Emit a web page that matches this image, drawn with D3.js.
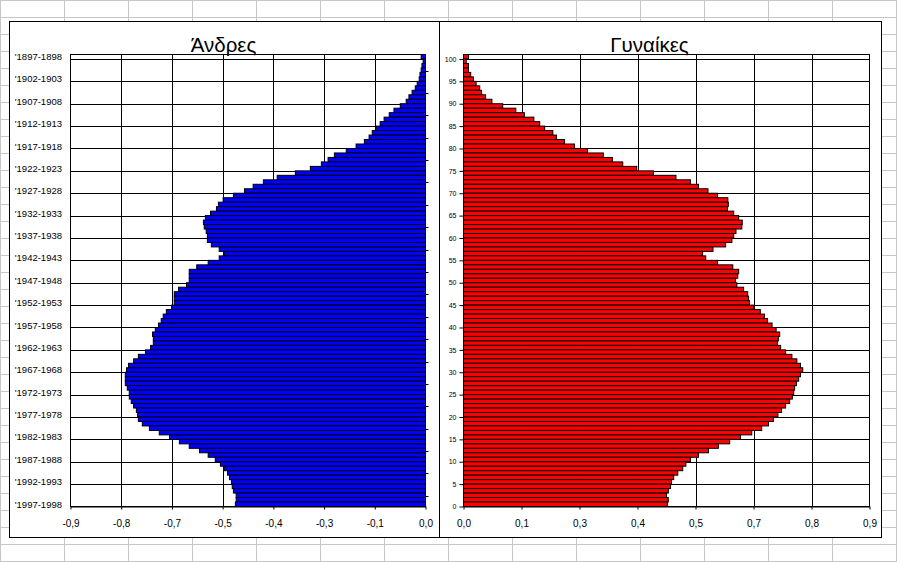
<!DOCTYPE html>
<html><head><meta charset="utf-8">
<script src="https://cdn.jsdelivr.net/npm/d3@7"></script>
<style>
body{margin:0;background:#fff;}
svg{display:block;font-family:"Liberation Sans",Arial,sans-serif;}
</style>
</head><body>
<svg id="c" width="897" height="562"></svg>
<script>
// ---------- data ----------
const birthYears = d3.range(1897, 1998);          // categories, top to bottom
const birthLabels = birthYears.map(y => "'" + y + "-" + (y + 1));
const ages = d3.range(100, -1, -1);                // 100 .. 0, top to bottom
const maleValues = [
  0.011,0.006,0.009,0.011,0.014,0.016,0.021,0.026,0.034,0.042,
  0.049,0.064,0.080,0.092,0.105,0.115,0.125,0.135,0.143,0.155,
  0.176,0.201,0.231,0.247,0.264,0.292,0.330,0.376,0.411,0.437,
  0.459,0.487,0.513,0.525,0.530,0.545,0.558,0.563,0.561,0.556,
  0.553,0.553,0.543,0.523,0.510,0.523,0.551,0.580,0.599,0.599,
  0.599,0.606,0.626,0.637,0.637,0.637,0.644,0.657,0.665,0.670,
  0.677,0.685,0.692,0.690,0.690,0.697,0.710,0.728,0.740,0.753,
  0.758,0.761,0.761,0.761,0.756,0.751,0.751,0.746,0.740,0.733,
  0.730,0.728,0.718,0.700,0.675,0.649,0.624,0.599,0.573,0.551,
  0.533,0.520,0.510,0.502,0.497,0.492,0.490,0.487,0.480,0.480,0.482
];
const femaleValues = [
  0.011,0.006,0.011,0.011,0.016,0.022,0.028,0.036,0.040,0.049,
  0.063,0.087,0.116,0.135,0.156,0.169,0.180,0.198,0.206,0.224,
  0.246,0.275,0.310,0.330,0.353,0.384,0.421,0.471,0.503,0.521,
  0.542,0.563,0.586,0.587,0.585,0.599,0.610,0.618,0.617,0.604,
  0.599,0.595,0.581,0.553,0.530,0.537,0.563,0.597,0.610,0.608,
  0.603,0.606,0.621,0.630,0.632,0.634,0.643,0.658,0.667,0.674,
  0.684,0.693,0.701,0.698,0.696,0.703,0.714,0.728,0.739,0.747,
  0.752,0.747,0.743,0.738,0.734,0.732,0.729,0.723,0.714,0.705,
  0.697,0.687,0.676,0.661,0.639,0.614,0.590,0.565,0.543,0.521,
  0.503,0.493,0.486,0.475,0.466,0.461,0.459,0.454,0.450,0.454,0.452
];
const maleTickLabels   = ["-0,9","-0,8","-0,7","-0,5","-0,4","-0,3","-0,1","0,0"];
const femaleTickLabels = ["0,0","0,1","0,3","0,4","0,5","0,7","0,8","0,9"];
const ageTickValues = d3.range(100, -1, -5);
const maleTitle = "Άνδρες", femaleTitle = "Γυναίκες";
const axisMax = 0.9;

// ---------- layout ----------
const svg = d3.select("#c");
const W = 897, H = 562;
const plotTop = 54.5, plotBottom = 506.5;

// spreadsheet background grid
const bg = svg.append("g");
bg.selectAll("line.v").data(d3.range(0, W + 1, 64)).join("line")
  .attr("x1", d => d + 0.5).attr("x2", d => d + 0.5).attr("y1", 0).attr("y2", H)
  .attr("stroke", "#c6c6c6").attr("stroke-width", 1);
bg.selectAll("line.h").data(d3.range(0, H + 1, 17)).join("line")
  .attr("y1", d => d + 0.5).attr("y2", d => d + 0.5).attr("x1", 0).attr("x2", W)
  .attr("stroke", "#c6c6c6").attr("stroke-width", 1);

// chart frames
svg.append("rect").attr("x", 9.5).attr("y", 21.5).attr("width", 430).attr("height", 516)
  .attr("fill", "#fff").attr("stroke", "#000");
svg.append("rect").attr("x", 439.5).attr("y", 21.5).attr("width", 442).attr("height", 516)
  .attr("fill", "#fff").attr("stroke", "#000");

const tickVals = d3.range(8).map(i => i * axisMax / 7);
const boundaryAge = d3.scaleLinear().domain([101, 0]).range([plotTop, plotBottom]);
const gridAges = ageTickValues.filter(a => a > 0);
const innerTicks = tickVals.filter(v => v > 0 && v < axisMax - 1e-9);

// ---------- left panel (men) ----------
const Lx0 = 70.5, Lx1 = 425.5;
const xL = d3.scaleLinear().domain([0, axisMax]).range([Lx1, Lx0]);
const yL = d3.scaleBand().domain(birthLabels).range([plotTop, plotBottom]).padding(0);
const gL = svg.append("g");

gL.selectAll("line.gv").data(innerTicks).join("line")
  .attr("x1", d => Math.round(xL(d)) + 0.5).attr("x2", d => Math.round(xL(d)) + 0.5)
  .attr("y1", plotTop).attr("y2", plotBottom).attr("stroke", "#000");
gL.selectAll("line.gh").data(gridAges).join("line")
  .attr("y1", d => Math.round(boundaryAge(d)) + 0.5).attr("y2", d => Math.round(boundaryAge(d)) + 0.5)
  .attr("x1", Lx0).attr("x2", Lx1).attr("stroke", "#000");
gL.selectAll("rect.bar").data(maleValues).join("rect")
  .attr("x", d => xL(d)).attr("width", d => xL(0) - xL(d))
  .attr("y", (d, i) => yL(birthLabels[i])).attr("height", yL.bandwidth())
  .attr("fill", "#0000ff").attr("stroke", "#000").attr("stroke-width", 1);
gL.append("rect").attr("x", Lx0).attr("y", plotTop).attr("width", Lx1 - Lx0).attr("height", plotBottom - plotTop)
  .attr("fill", "none").attr("stroke", "#000");
gL.selectAll("text.cat").data(birthLabels.filter((d, i) => i % 5 === 0)).join("text")
  .attr("x", 62).attr("y", d => yL(d) + yL.bandwidth() / 2).attr("dy", "0.35em")
  .attr("text-anchor", "end").attr("font-size", "9.5px").attr("fill", "#000").text(d => d);
gL.selectAll("line.rt").data(d3.range(20)).join("line")
  .attr("x1", Lx1).attr("x2", Lx1 + 3)
  .attr("y1", k => Math.round(plotTop + (3.6 + 5 * k) * yL.step()) + 0.5)
  .attr("y2", k => Math.round(plotTop + (3.6 + 5 * k) * yL.step()) + 0.5)
  .attr("stroke", "#000");
const axL = gL.append("g").attr("transform", `translate(0,${plotBottom})`)
  .call(d3.axisBottom(xL).tickValues(tickVals).tickSize(3).tickSizeOuter(0).tickPadding(10)
    .tickFormat((d, i) => maleTickLabels[7 - i]));
axL.selectAll("text").attr("font-size", "10px").attr("font-family", "Liberation Sans, Arial, sans-serif").attr("fill", "#000");
axL.selectAll("line,path").attr("stroke", "#000");
svg.append("text").attr("x", 223.5).attr("y", 52).attr("text-anchor", "middle")
  .attr("font-size", "20.5px").attr("fill", "#000").text(maleTitle);

// ---------- right panel (women) ----------
const Rx0 = 463.5, Rx1 = 869.5;
const xR = d3.scaleLinear().domain([0, axisMax]).range([Rx0, Rx1]);
const yR = d3.scaleBand().domain(ages).range([plotTop, plotBottom]).padding(0);
const gR = svg.append("g");

gR.selectAll("line.gv").data(innerTicks).join("line")
  .attr("x1", d => Math.round(xR(d)) + 0.5).attr("x2", d => Math.round(xR(d)) + 0.5)
  .attr("y1", plotTop).attr("y2", plotBottom).attr("stroke", "#000");
gR.selectAll("line.gh").data(gridAges).join("line")
  .attr("y1", d => Math.round(boundaryAge(d)) + 0.5).attr("y2", d => Math.round(boundaryAge(d)) + 0.5)
  .attr("x1", Rx0).attr("x2", Rx1).attr("stroke", "#000");
gR.selectAll("rect.bar").data(femaleValues).join("rect")
  .attr("x", xR(0)).attr("width", d => xR(d) - xR(0))
  .attr("y", (d, i) => yR(ages[i])).attr("height", yR.bandwidth())
  .attr("fill", "#ff0000").attr("stroke", "#000").attr("stroke-width", 1);
gR.append("rect").attr("x", Rx0).attr("y", plotTop).attr("width", Rx1 - Rx0).attr("height", plotBottom - plotTop)
  .attr("fill", "none").attr("stroke", "#000");
const ayR = gR.append("g").attr("transform", `translate(${Rx0},0)`)
  .call(d3.axisLeft(boundaryAge).tickValues(ageTickValues).tickSize(4).tickSizeOuter(0).tickPadding(3)
    .tickFormat(d => String(d)));
ayR.select("path").remove();
ayR.selectAll("text").attr("font-size", "7px").attr("font-family", "Liberation Sans, Arial, sans-serif").attr("fill", "#000");
ayR.selectAll("line").attr("stroke", "#000");
const axR = gR.append("g").attr("transform", `translate(0,${plotBottom})`)
  .call(d3.axisBottom(xR).tickValues(tickVals).tickSize(3).tickSizeOuter(0).tickPadding(10)
    .tickFormat((d, i) => femaleTickLabels[i]));
axR.selectAll("text").attr("font-size", "10px").attr("font-family", "Liberation Sans, Arial, sans-serif").attr("fill", "#000");
axR.selectAll("line,path").attr("stroke", "#000");
svg.append("text").attr("x", 649.5).attr("y", 52).attr("text-anchor", "middle")
  .attr("font-size", "20.5px").attr("fill", "#000").text(femaleTitle);
</script>
</body></html>
